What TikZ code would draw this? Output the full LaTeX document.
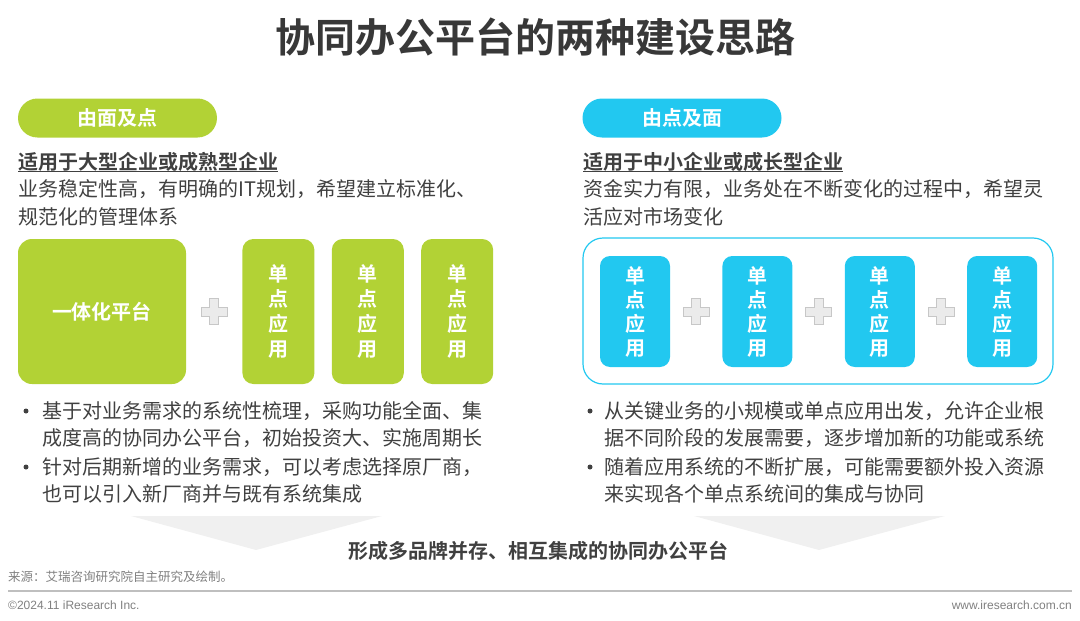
\documentclass[tikz,border=0pt]{standalone}
\usepackage{fontspec}
\setmainfont{Noto Sans CJK SC}[BoldFont={Noto Sans CJK SC Bold}]
\newfontfamily\latinfont{Liberation Sans}
\usetikzlibrary{calc, positioning}

\definecolor{limegreen}{HTML}{B2D235}
\definecolor{skyblue}{HTML}{22C8F0}
\definecolor{txtgray}{HTML}{404040}
\definecolor{footgray}{HTML}{808080}
\definecolor{arrowgray}{HTML}{F0F0F0}
\newcommand{\fs}[2]{\fontsize{#1}{#2}\selectfont}

\begin{document}
\begin{tikzpicture}[x=1pt, y=-1pt,
  every node/.style={inner sep=0pt, text=txtgray},
  pill/.style={rounded corners=19.5pt, minimum width=199pt, minimum height=39pt,
               font=\bfseries\fs{20}{24}, text=white},
  bigbox/.style={rounded corners=14pt, fill=limegreen, minimum width=168pt,
                 minimum height=145pt, font=\bfseries\fs{20}{24}, text=white},
  greenapp/.style={rounded corners=11pt, fill=limegreen, minimum width=72pt,
                   minimum height=145pt, align=center, font=\bfseries\fs{20}{25}, text=white},
  blueapp/.style={rounded corners=10pt, fill=skyblue, minimum width=70pt,
                  minimum height=111pt, align=center, font=\bfseries\fs{20}{24}, text=white},
  head/.style={anchor=west, font=\bfseries\fs{20}{24}},
  body/.style={anchor=north west, align=left, font=\fs{20}{28}},
  bul/.style={anchor=north west, align=left, font=\fs{20}{27.5}},
  dot/.style={circle, fill=txtgray, minimum size=5pt},
  plusmark/.style={fill=black!8, draw=black!22, line width=0.8pt},
  foot/.style={text=footgray, font=\fs{12.5}{14}}
]
\useasboundingbox (0,0) rectangle (1080,621);

% title
\node[font=\bfseries\fs{40}{44}, text=black!78] (title) at (535,37) {协同办公平台的两种建设思路};

% left column: from the whole to the points
\node[pill, fill=limegreen] (pillL) at (117.5,118) {由面及点};
\node[head] (headL) at (18,162) {适用于大型企业或成熟型企业};
\draw[txtgray, line width=1.3pt] (headL.south west) -- (headL.south east);
\node[body] (descL) at (18,179) {业务稳定性高，有明确的IT规划，希望建立标准化、\\规范化的管理体系};

\node[bigbox] (big) at (102,311.5) {一体化平台};
\node[greenapp, right=56pt of big] (ga1) {单\\点\\应\\用};
\node[greenapp, right=17pt of ga1] (ga2) {单\\点\\应\\用};
\node[greenapp, right=17pt of ga2] (ga3) {单\\点\\应\\用};

\node[dot] (dotL1) at (26,411) {};
\node[bul] (bulL1) at (42,401) {基于对业务需求的系统性梳理，采购功能全面、集\\成度高的协同办公平台，初始投资大、实施周期长};
\node[dot] (dotL2) at (26,467) {};
\node[bul] (bulL2) at (42,457) {针对后期新增的业务需求，可以考虑选择原厂商，\\也可以引入新厂商并与既有系统集成};

% right column: from the points to the whole
\node[pill, fill=skyblue] (pillR) at (682,118) {由点及面};
\node[head] (headR) at (583,162) {适用于中小企业或成长型企业};
\draw[txtgray, line width=1.3pt] (headR.south west) -- (headR.south east);
\node[body] (descR) at (583,179) {资金实力有限，业务处在不断变化的过程中，希望灵\\活应对市场变化};

\node[draw=skyblue, line width=1.2pt, rounded corners=20pt, minimum width=470pt,
      minimum height=146pt] (frame) at (818,311) {};
\node[blueapp] (ba1) at (635,311.5) {单\\点\\应\\用};
\node[blueapp, right=52pt of ba1] (ba2) {单\\点\\应\\用};
\node[blueapp, right=52pt of ba2] (ba3) {单\\点\\应\\用};
\node[blueapp, right=52pt of ba3] (ba4) {单\\点\\应\\用};

\node[dot] (dotR1) at (590,411) {};
\node[bul] (bulR1) at (604,401) {从关键业务的小规模或单点应用出发，允许企业根\\据不同阶段的发展需要，逐步增加新的功能或系统};
\node[dot] (dotR2) at (590,467) {};
\node[bul] (bulR2) at (604,457) {随着应用系统的不断扩展，可能需要额外投入资源\\来实现各个单点系统间的集成与协同};

% plus signs between the boxes
\coordinate (pl0) at ($(big.east)!0.5!(ga1.west)$);
\coordinate (pl1) at ($(ba1.east)!0.5!(ba2.west)$);
\coordinate (pl2) at ($(ba2.east)!0.5!(ba3.west)$);
\coordinate (pl3) at ($(ba3.east)!0.5!(ba4.west)$);
\foreach \p in {pl0,pl1,pl2,pl3}
  \draw[plusmark] (\p) ++(-4.5,-13) -- ++(9,0) -- ++(0,8.5) -- ++(8.5,0) -- ++(0,9)
    -- ++(-8.5,0) -- ++(0,8.5) -- ++(-9,0) -- ++(0,-8.5) -- ++(-8.5,0) -- ++(0,-9)
    -- ++(8.5,0) -- cycle;

% arrows towards the result
\fill[arrowgray] (131,516) -- (382,516) -- (256,550) -- cycle;
\fill[arrowgray] (694,516) -- (945,516) -- (819,550) -- cycle;
\node[font=\bfseries\fs{20}{24}] (result) at (538,551) {形成多品牌并存、相互集成的协同办公平台};

% footer
\node[foot, anchor=west] (source) at (8,577) {来源：艾瑞咨询研究院自主研究及绘制。};
\coordinate (ruleL) at (8,591);
\coordinate (ruleR) at (1072,591);
\draw[black!25, line width=1.5pt] (ruleL) -- (ruleR);
\node[foot, anchor=west, font=\latinfont\fs{12}{14}] (copy) at (8,605) {©2024.11 iResearch Inc.};
\node[foot, anchor=east, font=\latinfont\fs{12}{14}] (web) at (1072,605) {www.iresearch.com.cn};
\end{tikzpicture}
\end{document}
